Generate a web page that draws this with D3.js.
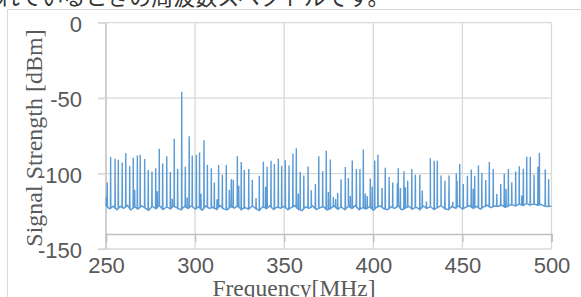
<!DOCTYPE html>
<html><head><meta charset="utf-8">
<script src="https://cdn.jsdelivr.net/npm/d3@7"></script>
<style>body{margin:0;background:#fff}svg{display:block}</style>
</head><body><svg id="c" width="581" height="297"></svg>
<script>
const xTicks = [250, 300, 350, 400, 450, 500];
const yTicks = [0, -50, -100, -150];
const axisCross = -140;

// noise floor, sampled every 2 MHz from 250 MHz
const floorStart = 250, floorStep = 2;
const floorValues = [
 -121.2,-123.4,-121.6,-123.9,-121.8,-123.0,-121.0,-124.1,-122.0,-123.5,-121.4,-122.9,-124.3,-121.7,-123.2,-121.1,-123.8,-122.2,-123.4,-121.5,-122.7,-124.0,-121.8,-123.1,-121.3,
 -123.6,-122.0,-124.2,-121.5,-123.1,-122.4,-123.7,-121.2,-123.4,-124.1,-121.7,-122.9,-121.3,-123.9,-122.5,-123.6,-121.5,-123.1,-124.4,-121.8,-123.2,-121.3,-123.8,-122.2,-122.9,
 -121.7,-124.0,-122.5,-121.3,-123.6,-124.5,-122.0,-123.1,-121.5,-123.7,-122.8,-121.8,-124.1,-123.2,-121.3,-123.6,-122.2,-123.9,-121.7,-123.1,-121.1,-124.0,-122.5,-123.4,-121.8,
 -124.2,-122.2,-121.5,-123.4,-123.9,-122.0,-123.1,-121.3,-124.1,-122.8,-121.7,-123.6,-122.2,-123.9,-121.5,-123.1,-122.0,-123.8,-122.5,-121.3,-123.2,-124.0,-121.8,-122.9,-121.5,
 -123.5,-122.2,-121.2,-123.1,-121.7,-123.6,-122.0,-121.1,-122.6,-121.5,-121.8,-120.9,-122.4,-121.2,-120.6,-121.5,-120.2,-121.2,-119.8,-120.9,-120.0,-121.0,-120.4,-121.6,-121.9,
 -121.6
];

const spikeFreqs = [
 250.2,250.7,252.6,255.1,256.9,259.1,261.1,263.3,265.3,266.1,267.6,269.2,271.7,273.7,275.8,277.9,278.8,279.9,281.8,284.1,286.1,287.2,288.3,290.2,292.5,294.5,295.6,296.7,298.4,
 300.7,302.5,303.3,305.0,306.9,309.1,310.8,312.3,313.2,315.3,317.5,319.2,320.3,321.4,323.7,324.5,325.9,327.6,330.1,332.1,334.2,336.0,338.3,339.6,340.4,342.6,344.5,346.7,348.6,
 350.6,352.7,354.9,356.8,357.9,359.0,361.0,363.4,365.2,367.5,369.4,371.6,373.6,374.8,375.9,377.6,378.9,380.0,381.9,384.3,386.0,387.1,388.2,390.5,392.5,394.4,395.5,396.6,398.3,399.4,
 400.8,402.6,404.9,406.7,408.9,410.9,413.5,414.0,415.2,417.2,418.0,419.3,421.6,423.6,426.1,427.5,429.8,432.0,434.2,435.9,438.0,440.2,442.5,444.6,446.6,447.0,448.5,
 450.5,452.8,455.0,456.1,456.9,459.0,460.9,463.1,465.1,467.3,469.3,471.5,473.5,474.5,475.8,477.7,479.9,481.9,483.3,484.2,486.1,488.1,490.2,492.4,493.2,496.5,498.4
];
const spikePeaks = [
 -115.5,-105.9,-89.1,-90.2,-90.9,-92.6,-86.3,-95.1,-89.6,-110.7,-88.0,-87.6,-90.4,-97.7,-98.6,-96.4,-111.8,-83.6,-93.3,-88.5,-99.0,-116.7,-77.0,-97.0,-45.7,-95.5,-115.8,-75.2,-88.0,
 -87.7,-86.0,-113.4,-77.9,-94.2,-96.4,-105.9,-117.1,-94.4,-100.8,-94.4,-110.7,-103.7,-104.1,-88.5,-108.1,-92.4,-97.7,-97.0,-104.1,-116.2,-101.5,-92.2,-108.8,-95.5,-91.5,-93.7,-90.2,-94.9,
 -91.1,-94.7,-86.7,-83.2,-113.2,-99.0,-101.3,-95.3,-111.0,-107.0,-88.5,-98.4,-84.9,-112.3,-90.6,-115.6,-116.9,-112.9,-103.7,-95.7,-103.0,-114.7,-91.3,-97.0,-97.0,-84.0,-113.2,-114.9,-103.3,-108.6,
 -91.3,-87.6,-109.6,-96.2,-102.3,-106.0,-106.5,-96.4,-109.6,-98.4,-109.0,-104.8,-97.0,-100.8,-100.8,-111.2,-118.5,-89.8,-91.5,-91.5,-101.3,-104.8,-101.3,-118.7,-99.9,-105.0,-93.7,
 -107.0,-101.5,-97.3,-110.1,-101.5,-94.7,-99.5,-104.3,-92.4,-97.0,-113.6,-107.0,-100.1,-110.1,-97.0,-105.7,-98.6,-95.1,-114.5,-96.8,-88.9,-88.9,-100.8,-95.5,-86.3,-97.3,-103.7
];

const svg = d3.select('#c');
const x = d3.scaleLinear().domain([250, 500]).range([106, 551.5]);
const y = d3.scaleLinear().domain([-150, 0]).range([249, 22.7]);
const numFmt = d => String(d);

// chart border
svg.append('rect').attr('x', 7.5).attr('y', 9.5).attr('width', 590).attr('height', 300)
  .attr('fill', 'none').attr('stroke', '#d9d9d9');

// caption text from the page above (cropped)
svg.append('text').attr('x', -2).attr('y', 5)
  .attr('font-family', '"Noto Sans CJK JP"').attr('font-size', 22).attr('fill', '#333')
  .text('れているときの周波数スペクトルです。');

// gridlines
svg.append('g').selectAll('line').data(yTicks).join('line')
  .attr('x1', 98).attr('x2', x(500)).attr('y1', d => y(d)).attr('y2', d => y(d))
  .attr('stroke', '#d9d9d9').attr('stroke-width', 1.3);
svg.append('g').selectAll('line').data(xTicks.slice(1)).join('line')
  .attr('x1', d => x(d)).attr('x2', d => x(d)).attr('y1', y(0)).attr('y2', y(-150))
  .attr('stroke', '#d9d9d9').attr('stroke-width', 1.3);

// horizontal axis line at -140 with ticks
const xAxisLine = svg.append('g').attr('transform', `translate(0,${y(axisCross)})`)
  .call(d3.axisBottom(x).tickValues(xTicks).tickSize(8).tickFormat(''));
xAxisLine.select('.domain').attr('stroke', '#bfbfbf').attr('stroke-width', 1.5);
xAxisLine.selectAll('.tick line').attr('stroke', '#bfbfbf').attr('stroke-width', 1.3);

// x tick labels
const xLab = svg.append('g').attr('transform', `translate(0,${y(-150)})`)
  .call(d3.axisBottom(x).tickValues(xTicks).tickSize(0).tickPadding(8).tickFormat(numFmt));
xLab.select('.domain').remove();
xLab.selectAll('text').attr('font-family', '"Liberation Sans", Arial, sans-serif')
  .attr('font-size', 22).attr('fill', '#595959');

// y axis
const yAx = svg.append('g').attr('transform', `translate(${x(250)},0)`)
  .call(d3.axisLeft(y).tickValues(yTicks).tickSize(8).tickPadding(16).tickFormat(numFmt));
yAx.select('.domain').attr('stroke', '#bfbfbf').attr('stroke-width', 1.5).attr('d', `M0,${y(0)}V${y(-150)}`);
yAx.selectAll('.tick line').attr('stroke', '#d9d9d9').attr('stroke-width', 1.3);
yAx.selectAll('text').attr('font-family', '"Liberation Sans", Arial, sans-serif')
  .attr('font-size', 22).attr('fill', '#595959').attr('dy', '0.4em');

// spectrum line
const floorPts = floorValues.map((v, i) => ({ f: floorStart + i * floorStep, v }));
const floorAt = d3.scaleLinear().domain(floorPts.map(p => p.f)).range(floorPts.map(p => p.v));
const pts = floorPts.slice();
spikeFreqs.forEach((f, i) => {
  const b = floorAt(f);
  pts.push({ f: f - 0.12, v: b }, { f: f, v: spikePeaks[i] }, { f: f + 0.12, v: b });
});
pts.sort((a, b) => a.f - b.f);
svg.append('path').datum(pts.filter(p => p.f >= 250 && p.f <= 500))
  .attr('fill', 'none').attr('stroke', '#5b9bd5').attr('stroke-width', 1.4)
  .attr('stroke-linejoin', 'miter')
  .attr('d', d3.line().x(d => x(d.f)).y(d => y(d.v)));

// axis titles
svg.append('text').attr('transform', 'translate(42,138) rotate(-90)')
  .attr('text-anchor', 'middle').attr('font-family', '"Liberation Serif", "Times New Roman", serif')
  .attr('font-size', 24).attr('fill', '#595959').text('Signal Strength [dBm]');
svg.append('text').attr('x', 294).attr('y', 296)
  .attr('text-anchor', 'middle').attr('font-family', '"Liberation Serif", "Times New Roman", serif')
  .attr('font-size', 23.5).attr('fill', '#595959').text('Frequency[MHz]');
</script></body></html>
